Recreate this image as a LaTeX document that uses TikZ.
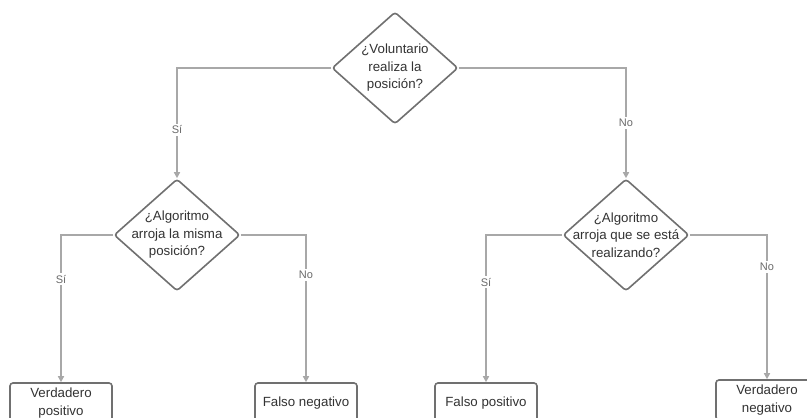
\documentclass[tikz,border=0pt]{standalone}
\usepackage{fontspec}
\setmainfont{Liberation Sans}
\usetikzlibrary{shapes.geometric,arrows.meta}
\definecolor{edgegray}{HTML}{A8A8A8}
\definecolor{shapegray}{HTML}{707070}
\definecolor{txtgray}{HTML}{333333}
\definecolor{lblgray}{HTML}{6A6A6A}
\begin{document}
\begin{tikzpicture}[x=1pt,y=-1pt,
  dia/.style={shape=diamond,draw=shapegray,line width=1.6pt,rounded corners=3pt,
    fill=white,minimum width=126pt,minimum height=112pt,inner sep=0pt},
  diatext/.style={align=center,text=txtgray,font=\fontsize{13.3}{17.5}\selectfont,inner sep=0pt},
  endbox/.style={draw=shapegray,line width=1.6pt,rounded corners=3pt,fill=white,
    minimum width=102pt,minimum height=40pt,align=center,text=txtgray,
    font=\fontsize{13.3}{17.5}\selectfont,inner sep=0pt},
  conn/.style={draw=edgegray,line width=1.6pt,-{Triangle[length=6pt,width=6pt]}},
  lbl/.style={fill=white,text=lblgray,font=\fontsize{11}{12}\selectfont,inner sep=2pt}]
\useasboundingbox (0,0) rectangle (807,418);
\clip (0,0) rectangle (807,418);
\fill[white] (0,0) rectangle (807,418);

\node[dia] (d1) at (395,68) {};
\node[diatext] (d1t) at (d1) {¿Voluntario\\realiza la\\posición?};
\node[dia] (d2) at (177,235) {};
\node[diatext] (d2t) at (d2) {¿Algoritmo\\arroja la misma\\posición?};
\node[dia] (d3) at (626,235) {};
\node[diatext] (d3t) at (d3) {¿Algoritmo\\arroja que se está\\realizando?};

\node[endbox] (b1) at (61,403) {Verdadero\\positivo};
\node[endbox] (b2) at (306,403) {Falso negativo};
\node[endbox] (b3) at (486,403) {Falso positivo};
\node[endbox] (b4) at (767,400) {Verdadero\\negativo};

\draw[conn] (d1.west) -| node[lbl,pos=0.78] {Sí} (d2.north);
\draw[conn] (d1.east) -| node[lbl,pos=0.75] {No} (d3.north);
\draw[conn] (d2.west) -| node[lbl,pos=0.65] {Sí} (b1.north);
\draw[conn] (d2.east) -| node[lbl,pos=0.635] {No} (b2.north);
\draw[conn] (d3.west) -| node[lbl,pos=0.66] {Sí} (b3.north);
\draw[conn] (d3.east) -| node[lbl,pos=0.61] {No} (b4.north);
\end{tikzpicture}
\end{document}
